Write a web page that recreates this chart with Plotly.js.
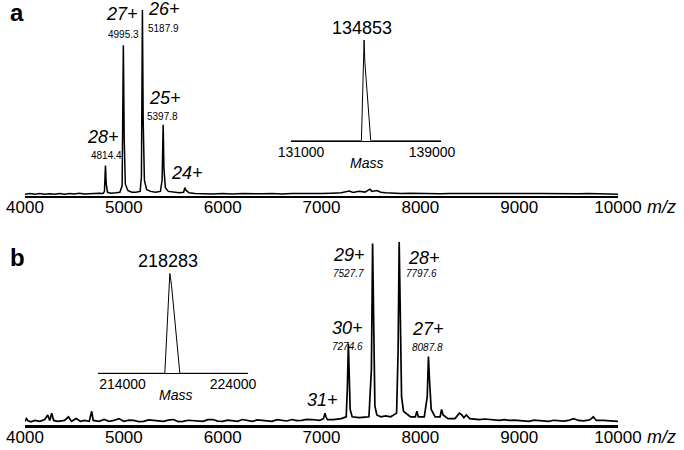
<!DOCTYPE html>
<html>
<head>
<meta charset="utf-8">
<script src="https://cdn.plot.ly/plotly-3.0.1.min.js"></script>
<style>
  html, body { margin: 0; padding: 0; background: #fff; }
  #viz { width: 684px; height: 450px; }
</style>
</head>
<body>
<div id="viz"></div>
<script>
// spectrum a (m/z vs relative intensity)
var mzA = [4000, 4050, 4100, 4150, 4200, 4250, 4300, 4350, 4400, 4450, 4500, 4550, 4600, 4650, 4700, 4750, 4790,
  4804, 4814, 4822, 4835, 4870, 4920, 4960, 4983, 4995, 5004, 5015, 5040, 5080, 5120, 5165, 5178, 5188, 5196, 5208,
  5230, 5270, 5320, 5370, 5387, 5398, 5406, 5420, 5450, 5500, 5560, 5605, 5617, 5630, 5660, 5720, 5800, 5900, 6000,
  6100, 6200, 6300, 6400, 6500, 6600, 6700, 6800, 6900, 7000, 7100, 7200, 7280, 7320, 7380, 7440, 7490, 7510, 7560,
  7600, 7650, 7700, 7800, 7900, 8000, 8100, 8200, 8300, 8400, 8500, 8600, 8700, 8800, 8900, 9000, 9100, 9200, 9300,
  9400, 9500, 9600, 9700, 9800, 9900, 10000];
var intA = [0.4, 0.8, 0.5, 0.9, 0.5, 0.7, 0.4, 0.8, 0.5, 0.9, 0.6, 1.0, 0.6, 0.8, 0.7, 1.0, 0.9,
  2, 16, 6, 1.5, 1.0, 1.2, 1.5, 5, 81, 30, 6, 2.5, 1.5, 1.5, 2, 10, 100, 40, 8,
  3, 2, 1.5, 2, 8, 38, 14, 4, 2, 1.5, 1.2, 1.5, 4, 2.5, 1.2, 0.9, 0.8, 0.6, 0.9,
  0.6, 0.8, 0.6, 0.7, 0.9, 0.6, 0.8, 0.7, 0.9, 0.8, 1.0, 1.2, 2.2, 1.4, 2.0, 1.6, 3.2, 2.0, 2.4,
  1.5, 1.2, 1.0, 0.9, 1.0, 0.8, 0.9, 0.7, 0.9, 0.8, 1.0, 0.7, 0.9, 0.8, 0.9, 0.7, 0.9, 0.8, 0.7,
  0.9, 0.8, 0.7, 0.8, 0.7, 0.6, 0.5];

// spectrum b
var mzB = [4000, 4015, 4030, 4060, 4100, 4150, 4200, 4230, 4250, 4270, 4290, 4330, 4400, 4440, 4470, 4520, 4560, 4600,
  4650, 4675, 4690, 4750, 4800, 4850, 4900, 4950, 5000, 5050, 5100, 5150, 5200, 5250, 5300, 5350, 5400, 5450, 5500,
  5550, 5600, 5650, 5700, 5750, 5800, 5850, 5900, 5950, 6000, 6050, 6100, 6150, 6200, 6250, 6300, 6350, 6400, 6450,
  6500, 6550, 6600, 6650, 6700, 6750, 6800, 6850, 6900, 6950, 6980, 7020, 7035, 7045, 7060, 7120, 7200, 7250, 7262,
  7272, 7280, 7290, 7310, 7380, 7440, 7480, 7505, 7517, 7527, 7540, 7560, 7600, 7650, 7700, 7760, 7775, 7786, 7796,
  7810, 7830, 7900, 7950, 7965, 7980, 8040, 8070, 8082, 8092, 8110, 8150, 8200, 8215, 8230, 8280, 8350, 8395, 8420,
  8440, 8465, 8500, 8550, 8600, 8650, 8700, 8750, 8800, 8850, 8900, 8950, 9000, 9050, 9100, 9150, 9200, 9250, 9300,
  9350, 9400, 9450, 9500, 9550, 9600, 9650, 9700, 9720, 9750, 9780, 9850, 9900, 9950, 10000];
var intB = [1.5, 3, 1.8, 1.2, 2, 1.5, 2.5, 5, 2, 6, 2, 1.5, 2, 4, 1.5, 3, 1.5, 2,
  1.5, 7, 2, 1.5, 2.5, 1.5, 2, 3, 1.5, 2.2, 2, 1.4, 1.5, 2.3, 2, 1.6, 1.5, 2.2, 2.5,
  1.4, 1.5, 2.1, 2, 1.5, 1.5, 2.4, 2.5, 1.6, 1.5, 2.2, 2, 1.5, 2.5, 1.8, 1.5, 2.3, 2, 1.6,
  1.5, 2.4, 2, 1.7, 2.5, 1.9, 2, 2.6, 2.5, 2.1, 2, 3, 6, 4, 2.5, 2.5, 3, 4, 20,
  44, 25, 8, 4, 3.5, 3.8, 4, 30, 99, 60, 10, 5, 4, 4.5, 4, 6, 40, 100, 60,
  15, 7, 4, 4, 7, 4, 4, 15, 37, 25, 8, 4, 4, 8, 5, 3, 3, 6, 5,
  3.5, 5, 3, 2.8, 2.5, 2.8, 2.5, 2.2, 2, 2.4, 2, 2.2, 2, 2.1, 1.5, 2.2, 2, 1.7, 1.5,
  2.1, 2, 1.6, 2, 3, 2, 1.8, 2.2, 2.5, 4, 2, 2, 1.7, 1.5, 1.5];

// deconvoluted mass insets
var massA = [130390, 134690, 134853, 134900, 135260, 139550];
var massIntA = [0, 0, 100, 78, 0, 0];
var massB = [211783, 217830, 218283, 218437, 219190, 225330];
var massIntB = [0, 0, 100, 88, 0, 0];

var mzTicks = [4000, 5000, 6000, 7000, 8000, 9000, 10000];

// peak labels: [charge, m/z text, charge pos px, m/z pos px]
var labelsA = [
  ['28+', '4814.4', 103, 136.7, 106, 155.7],
  ['27+', '4995.3', 122.3, 13.8, 123, 35],
  ['26+', '5187.9', 163.8, 9.5, 163, 29],
  ['25+', '5397.8', 164.7, 97.7, 162.7, 116.7],
  ['24+', '', 186.7, 173.3, 0, 0]
];
var labelsB = [
  ['31+', '', 322.5, 400, 0, 0],
  ['30+', '7274.6', 347, 328.3, 347, 346.7],
  ['29+', '7527.7', 349, 255, 349, 273.3],
  ['28+', '7797.6', 424, 258.3, 421.7, 273.3],
  ['27+', '8087.8', 428.3, 329.3, 427.5, 347.3]
];

var W = 684, H = 450;
function px(x) { return x / W; }
function py(y) { return 1 - y / H; }

var FONT = 'Arial, "Liberation Sans", sans-serif';

var data = [
  { x: mzA, y: intA, xaxis: 'x', yaxis: 'y', mode: 'lines', line: { color: 'black', width: 1.5 } },
  { x: mzB, y: intB, xaxis: 'x2', yaxis: 'y2', mode: 'lines', line: { color: 'black', width: 1.7 } },
  { x: massA, y: massIntA, xaxis: 'x3', yaxis: 'y3', mode: 'lines', line: { color: 'black', width: 1 } },
  { x: massB, y: massIntB, xaxis: 'x4', yaxis: 'y4', mode: 'lines', line: { color: 'black', width: 1 } }
];

function mainX(anchor, lw) {
  return {
    domain: [px(25), px(618)], range: [4000, 10000], anchor: anchor,
    tickmode: 'array', tickvals: mzTicks, tickformat: 'd',
    showline: true, linecolor: 'black', linewidth: lw,
    ticks: '', showgrid: false, zeroline: false, ticklabelstandoff: -5,
    tickfont: { family: FONT, size: 17, color: 'black' }
  };
}
function insetX(anchor, dom, rng, tv) {
  return {
    domain: dom, range: rng, anchor: anchor,
    tickmode: 'array', tickvals: tv, tickformat: 'd',
    showline: true, linecolor: 'black', linewidth: 1,
    ticks: '', showgrid: false, zeroline: false, ticklabelstandoff: -2,
    tickfont: { family: FONT, size: 14, color: 'black' }
  };
}
function hiddenY(anchor, dom, rng) {
  return { domain: dom, range: rng, anchor: anchor, visible: false, fixedrange: true };
}

var ann = [];
function addText(text, x, y, size, italic, bold) {
  ann.push({
    xref: 'paper', yref: 'paper', x: px(x), y: py(y), xanchor: 'center', yanchor: 'middle',
    text: bold ? '<b>' + text + '</b>' : (italic ? '<i>' + text + '</i>' : text),
    showarrow: false, font: { family: FONT, size: size, color: 'black' }
  });
}
labelsA.forEach(function (l) {
  addText(l[0], l[2], l[3], 18, true);
  if (l[1]) addText(l[1], l[4], l[5], 10, false);
});
labelsB.forEach(function (l) {
  addText(l[0], l[2], l[3], 18, true);
  if (l[1]) addText(l[1], l[4], l[5], 10, true);
});
addText('134853', 361.5, 28.3, 18, false);
addText('218283', 168, 260.7, 18, false);
addText('Mass', 366, 163, 14, true);
addText('Mass', 175, 395, 14, true);
addText('m/z', 661, 207, 18, true);
addText('m/z', 661, 437, 18, true);
addText('a', 17, 13, 24, false, true);
addText('b', 17, 257, 24, false, true);

var layout = {
  width: W, height: H,
  margin: { l: 0, r: 0, t: 0, b: 0 },
  paper_bgcolor: 'white', plot_bgcolor: 'rgba(0,0,0,0)',
  showlegend: false,
  font: { family: FONT, color: 'black' },
  xaxis: mainX('y', 1.5),
  yaxis: hiddenY('x', [py(196), py(10)], [-0.5, 100]),
  xaxis2: mainX('y2', 2.5),
  yaxis2: hiddenY('x2', [py(425), py(241.7)], [-0.5, 100]),
  xaxis3: insetX('y3', [px(291), px(441)], [130390, 139550], [131000, 139000]),
  yaxis3: hiddenY('x3', [py(140.7), py(40)], [0, 100]),
  xaxis4: insetX('y4', [px(98), px(247.7)], [211783, 225330], [214000, 224000]),
  yaxis4: hiddenY('x4', [py(373.3), py(273.3)], [0, 100]),
  annotations: ann
};

Plotly.newPlot('viz', data, layout, { displayModeBar: false, staticPlot: true });
</script>
</body>
</html>
